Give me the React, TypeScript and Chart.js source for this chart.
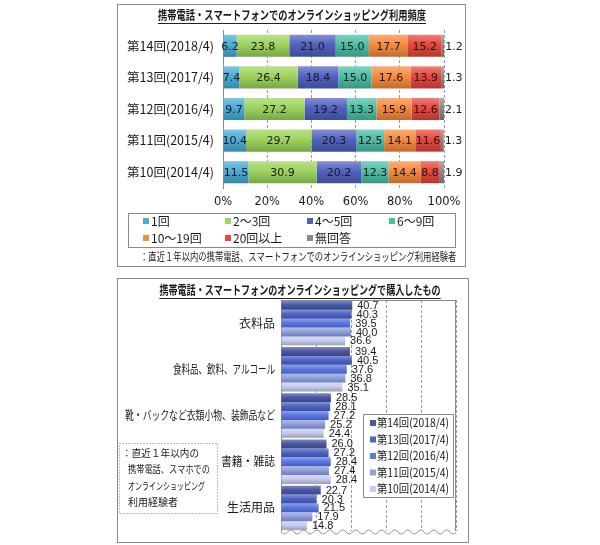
import React, { useEffect, useRef } from "react";
import { Chart, registerables } from "chart.js";
Chart.register(...registerables);

// ---------- data: chart 1 (usage frequency, %) ----------
const freqCategories = ["第14回(2018/4)", "第13回(2017/4)", "第12回(2016/4)", "第11回(2015/4)", "第10回(2014/4)"];
const freqSeriesNames = ["1回", "2～3回", "4～5回", "6～9回", "10～19回", "20回以上", "無回答"];
const freq1 = [6.2, 7.4, 9.7, 10.4, 11.5];
const freq2to3 = [23.8, 26.4, 27.2, 29.7, 30.9];
const freq4to5 = [21.0, 18.4, 19.2, 20.3, 20.2];
const freq6to9 = [15.0, 15.0, 13.3, 12.5, 12.3];
const freq10to19 = [17.7, 17.6, 15.9, 14.1, 14.4];
const freq20plus = [15.2, 13.9, 12.6, 11.6, 8.8];
const freqNoAnswer = [1.2, 1.3, 2.1, 1.3, 1.9];
const freqTicks = [0, 20, 40, 60, 80, 100];
const freqTitle = "携帯電話・スマートフォンでのオンラインショッピング利用頻度";
const freqNote = "：直近１年以内の携帯電話、スマートフォンでのオンラインショッピング利用経験者";

// ---------- data: chart 2 (purchased items, %) ----------
const itemCategories = ["衣料品", "食料品、飲料、アルコール", "靴・バックなど衣類小物、装飾品など", "書籍・雑誌", "生活用品"];
const roundNames = ["第14回(2018/4)", "第13回(2017/4)", "第12回(2016/4)", "第11回(2015/4)", "第10回(2014/4)"];
const round14 = [40.7, 39.4, 28.5, 26.0, 22.7];
const round13 = [40.3, 40.5, 28.1, 27.2, 20.3];
const round12 = [39.5, 37.6, 27.2, 28.4, 21.5];
const round11 = [40.0, 36.8, 25.2, 27.4, 17.9];
const round10 = [36.6, 35.1, 24.4, 28.4, 14.8];
const itemTitle = "携帯電話・スマートフォンのオンラインショッピングで購入したもの";
const itemNoteLines = ["：直近１年以内の", "携帯電話、スマホでの", "オンラインショッピング", "利用経験者"];

// ---------- styles ----------
const freqColors = ["#4aabd6", "#9cd45c", "#5161c0", "#4cbea4", "#f68a3e", "#e8463c", "#8a8a8a"];
const roundColors = ["#4a59a6", "#4e64c6", "#5b79e6", "#91a0e0", "#c5ccef"];
const JP = '"Noto Sans CJK JP", sans-serif';
const NUM = '"DejaVu Sans", sans-serif';
const NUM2 = '"Liberation Sans", sans-serif';
const TXT = "#1a1a1a";
const FRAME = "#8a8a8a";

function shade(hex: string, amt: number) {
  const n = parseInt(hex.slice(1), 16);
  let r = (n >> 16) & 255, g = (n >> 8) & 255, b = n & 255;
  const t = amt > 0 ? 255 : 0;
  const p = Math.abs(amt);
  r = Math.round(r + (t - r) * p);
  g = Math.round(g + (t - g) * p);
  b = Math.round(b + (t - b) * p);
  return `rgb(${r},${g},${b})`;
}

function barFill(base: string, pct: number, groupCount: number) {
  return (c: any) => {
    if (!c || c.type !== "data") return base;
    const chart = c.chart;
    const ys = chart.scales && chart.scales.y;
    if (!ys || !chart.chartArea || !isFinite(ys.height) || ys.height <= 0) return base;
    const n = chart.data.labels.length;
    const cat = ys.height / n;
    const center = ys.getPixelForValue(c.dataIndex);
    let top: number, h: number;
    if (groupCount <= 1) {
      h = cat * pct;
      top = center - h / 2;
    } else {
      const g = cat * pct;
      h = g / groupCount;
      top = center - g / 2 + c.datasetIndex * h;
    }
    const grad = chart.ctx.createLinearGradient(0, top, 0, top + h);
    grad.addColorStop(0, shade(base, 0.3));
    grad.addColorStop(0.45, base);
    grad.addColorStop(1, shade(base, -0.22));
    return grad;
  };
}

const WIDE = /[\u3400-\u9fff\uff01-\uff5e\u3000]/;
const NARROW_CJK = /[\u3001-\u30ff]/;
function fitWidth(ctx: CanvasRenderingContext2D, text: string, size: number, r: number) {
  let w = 0;
  for (const ch of text) {
    if (WIDE.test(ch)) w += size;
    else if (NARROW_CJK.test(ch)) w += size * r;
    else w += ctx.measureText(ch).width;
  }
  return w;
}
function drawText(
  ctx: CanvasRenderingContext2D, text: string, x: number, y: number,
  o: { size: number; bold?: boolean; align?: CanvasTextAlign; family?: string; r?: number; color?: string; max?: number }
) {
  ctx.font = `${o.bold ? "bold " : ""}${o.size}px ${o.family || JP}`;
  ctx.textAlign = o.align || "left";
  ctx.textBaseline = "middle";
  ctx.fillStyle = o.color || TXT;
  const natural = ctx.measureText(text).width;
  let target = Math.min(natural, fitWidth(ctx, text, o.size, o.r ?? 0.62));
  if (o.max) target = Math.min(target, o.max);
  ctx.fillText(text, x, y, target);
  return target;
}

// ---------- chart 1 ----------
const freqSeries = [freq1, freq2to3, freq4to5, freq6to9, freq10to19, freq20plus, freqNoAnswer];
const FREQ_BAR = 0.7;

const freqPlugin = {
  id: "freqDecor",
  afterDraw(chart: any) {
    const ctx: CanvasRenderingContext2D = chart.ctx;
    const { width: W, height: H, chartArea: ca } = chart;
    const xs = chart.scales.x, ys = chart.scales.y;
    ctx.save();
    // panel frame
    ctx.strokeStyle = FRAME;
    ctx.lineWidth = 1;
    ctx.strokeRect(0.5, 0.5, W - 1, H - 1);
    // title
    const tw = drawText(ctx, freqTitle, 175, 11, { size: 12.5, bold: true, align: "center", r: 0.64 });
    ctx.beginPath();
    ctx.moveTo(175 - tw / 2, 19.5);
    ctx.lineTo(175 + tw / 2, 19.5);
    ctx.strokeStyle = "#222";
    ctx.stroke();
    // category labels
    freqCategories.forEach((lab, i) => {
      drawText(ctx, lab, ca.left - 9, ys.getPixelForValue(i), { size: 12.5, align: "right" });
    });
    // x tick labels
    freqTicks.forEach((v) => {
      drawText(ctx, v + "%", xs.getPixelForValue(v), ca.bottom + 14, { size: 11.5, family: NUM, align: "center" });
    });
    // data labels
    chart.data.datasets.forEach((ds: any, di: number) => {
      const meta = chart.getDatasetMeta(di);
      meta.data.forEach((el: any, i: number) => {
        const v = ds.data[i];
        const txt = v.toFixed(1);
        if (di === chart.data.datasets.length - 1) {
          drawText(ctx, txt, el.x + 1, el.y + 1, { size: 11, family: NUM, align: "left" });
        } else {
          drawText(ctx, txt, (el.x + el.base) / 2, el.y + 1, { size: 11, family: NUM, align: "center" });
        }
      });
    });
    // legend box
    const lx = 11, ly = 209, lw = 327, lh = 34;
    ctx.fillStyle = "#fff";
    ctx.fillRect(lx, ly, lw, lh);
    ctx.strokeStyle = FRAME;
    ctx.strokeRect(lx + 0.5, ly + 0.5, lw, lh);
    freqSeriesNames.forEach((name, i) => {
      const col = i % 4, row = Math.floor(i / 4);
      const mx = 26 + col * 82, my = 217 + row * 17;
      ctx.fillStyle = freqColors[i];
      ctx.fillRect(mx, my - 3, 6, 6);
      drawText(ctx, name, mx + 8, my, { size: 12 });
    });
    // footnote
    drawText(ctx, freqNote, 23, 253, { size: 11, r: 0.58 });
    ctx.restore();
  },
};

const freqConfig: any = {
  type: "bar",
  data: {
    labels: freqCategories,
    datasets: freqSeries.map((d, i) => ({
      label: freqSeriesNames[i],
      data: d,
      backgroundColor: barFill(freqColors[i], FREQ_BAR, 1),
      borderWidth: 0,
      barPercentage: FREQ_BAR,
      categoryPercentage: 1,
    })),
  },
  options: {
    indexAxis: "y",
    responsive: false,
    animation: false,
    events: [],
    layout: { padding: { left: 106, right: 22, top: 26, bottom: 79 } },
    plugins: { legend: { display: false }, tooltip: { enabled: false }, title: { display: false } },
    scales: {
      x: {
        stacked: true,
        min: 0,
        max: 100,
        ticks: { display: false, stepSize: 20 },
        grid: { display: true, color: "#9a9a9a", drawTicks: false, lineWidth: 1 },
        border: { display: false, dash: [3, 2] },
        afterFit: (s: any) => { s.height = 0; },
      },
      y: {
        stacked: true,
        ticks: { display: false },
        grid: { display: false, drawTicks: false },
        border: { display: true, color: FRAME, width: 1 },
        afterFit: (s: any) => { s.width = 0; },
      },
    },
  },
  plugins: [freqPlugin],
};

// ---------- chart 2 ----------
const roundSeries = [round14, round13, round12, round11, round10];
const ITEM_CAT = 0.96;

const itemPlugin = {
  id: "itemDecor",
  afterDraw(chart: any) {
    const ctx: CanvasRenderingContext2D = chart.ctx;
    const { width: W, height: H, chartArea: ca } = chart;
    const ys = chart.scales.y;
    ctx.save();
    ctx.strokeStyle = FRAME;
    ctx.lineWidth = 1;
    ctx.strokeRect(0.5, 0.5, W - 1, H - 1);
    // title
    const tw = drawText(ctx, itemTitle, 183, 12, { size: 12.5, bold: true, align: "center", r: 0.66 });
    ctx.beginPath();
    ctx.moveTo(183 - tw / 2, 20.5);
    ctx.lineTo(183 + tw / 2, 20.5);
    ctx.strokeStyle = "#222";
    ctx.stroke();
    // plot frame: top & right
    ctx.strokeStyle = FRAME;
    ctx.beginPath();
    ctx.moveTo(ca.left, Math.round(ca.top) + 0.5);
    ctx.lineTo(ca.right, Math.round(ca.top) + 0.5);
    ctx.moveTo(Math.round(ca.right) - 0.5, ca.top);
    ctx.lineTo(Math.round(ca.right) - 0.5, ca.bottom);
    ctx.stroke();
    // wavy break line at the bottom
    ctx.beginPath();
    for (let x = ca.left; x <= ca.right; x += 1) {
      const y = ca.bottom + 1 + 2 * Math.sin(((x - ca.left) / 13) * Math.PI * 2);
      if (x === ca.left) ctx.moveTo(x, y);
      else ctx.lineTo(x, y);
    }
    ctx.strokeStyle = "#999";
    ctx.stroke();
    // category labels
    itemCategories.forEach((lab, i) => {
      drawText(ctx, lab, ca.left - 6, ys.getPixelForValue(i), { size: 12, align: "right", r: 0.5 });
    });
    // data labels
    chart.data.datasets.forEach((ds: any, di: number) => {
      const meta = chart.getDatasetMeta(di);
      meta.data.forEach((el: any, i: number) => {
        drawText(ctx, ds.data[i].toFixed(1), el.x + 5, el.y + 0.5, { size: 11, family: NUM2, align: "left" });
      });
    });
    // legend
    const lx = 246, ly = 136, lw = 90, lh = 83;
    ctx.fillStyle = "#fff";
    ctx.fillRect(lx, ly, lw, lh);
    ctx.strokeStyle = FRAME;
    ctx.strokeRect(lx + 0.5, ly + 0.5, lw, lh);
    roundNames.forEach((name, i) => {
      const my = 145 + i * 16.5;
      ctx.fillStyle = roundColors[i];
      ctx.fillRect(253, my - 3, 6, 6);
      drawText(ctx, name, 260, my, { size: 11.5, max: 72 });
    });
    // note box (dotted)
    ctx.fillStyle = "#fff";
    ctx.fillRect(2, 165, 98, 70);
    ctx.setLineDash([1, 2]);
    ctx.strokeStyle = "#777";
    ctx.strokeRect(2.5, 165.5, 98, 70);
    ctx.setLineDash([]);
    itemNoteLines.forEach((line, i) => {
      drawText(ctx, line, i === 0 ? 5 : 11, 175 + i * 16.5, { size: 10, r: 0.7 });
    });
    ctx.restore();
  },
};

const itemConfig: any = {
  type: "bar",
  data: {
    labels: itemCategories,
    datasets: roundSeries.map((d, i) => ({
      label: roundNames[i],
      data: d,
      backgroundColor: barFill(roundColors[i], ITEM_CAT, roundSeries.length),
      borderWidth: 0,
      barPercentage: 1,
      categoryPercentage: ITEM_CAT,
    })),
  },
  options: {
    indexAxis: "y",
    responsive: false,
    animation: false,
    events: [],
    layout: { padding: { left: 164, right: 13, top: 22, bottom: 12 } },
    plugins: { legend: { display: false }, tooltip: { enabled: false }, title: { display: false } },
    scales: {
      x: {
        min: 0,
        max: 100,
        ticks: { display: false, stepSize: 20 },
        grid: { display: true, color: "#9a9a9a", drawTicks: false, lineWidth: 1 },
        border: { display: false, dash: [3, 2] },
        afterFit: (s: any) => { s.height = 0; },
      },
      y: {
        ticks: { display: false },
        grid: { display: false, drawTicks: false },
        border: { display: true, color: FRAME, width: 1 },
        afterFit: (s: any) => { s.width = 0; },
      },
    },
  },
  plugins: [itemPlugin],
};

export default function App() {
  const topRef = useRef<HTMLCanvasElement>(null);
  const botRef = useRef<HTMLCanvasElement>(null);
  useEffect(() => {
    const c1 = new Chart(topRef.current as HTMLCanvasElement, freqConfig);
    const c2 = new Chart(botRef.current as HTMLCanvasElement, itemConfig);
    return () => {
      c1.destroy();
      c2.destroy();
    };
  }, []);
  return (
    <div style={{ position: "absolute", left: 0, top: 0, width: 600, height: 545, background: "#fff" }}>
      <canvas ref={topRef} width={349} height={263} style={{ position: "absolute", left: 117, top: 4, width: 349, height: 263 }} />
      <canvas ref={botRef} width={352} height={265} style={{ position: "absolute", left: 117, top: 278, width: 352, height: 265 }} />
    </div>
  );
}
